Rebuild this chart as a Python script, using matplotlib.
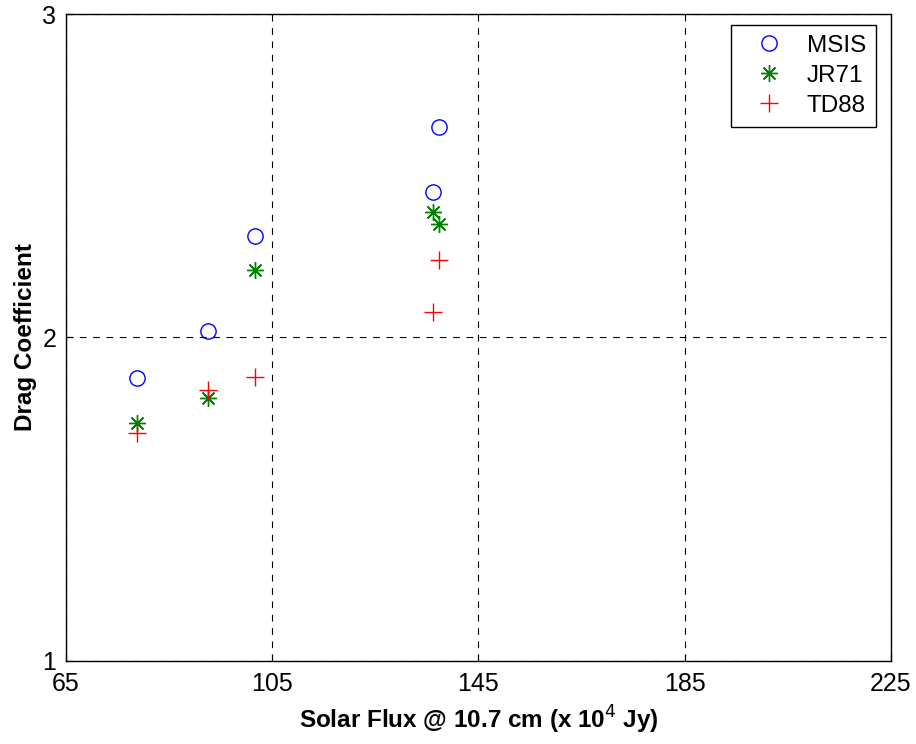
import matplotlib
matplotlib.use('Agg')
import matplotlib.pyplot as plt

# solar flux (x 10^4 Jy) and drag coefficient for each model
flux = [78.8, 92.5, 101.6, 136.1, 137.3]
cd_msis = [1.875, 2.021, 2.314, 2.449, 2.650]
cd_jr71 = [1.735, 1.813, 2.208, 2.389, 2.350]
cd_td88 = [1.704, 1.837, 1.878, 2.079, 2.238]

xticks = [65, 105, 145, 185, 225]
yticks = [1, 2, 3]

plt.rcParams['font.family'] = ['Liberation Sans', 'DejaVu Sans']

fig = plt.figure(figsize=(9.16, 7.44), dpi=100)
ax = fig.add_axes([0.072, 0.112, 0.9007, 0.869])

ax.plot(flux, cd_msis, 'o', mfc='none', mec='blue', ms=11, mew=1.0, label='MSIS')
ax.plot(flux, cd_jr71, marker=(8, 2, 0), ls='none', color='green', ms=12, mew=1.0, label='JR71')
ax.plot(flux, cd_td88, '+', color='red', ms=13, mew=1.0, label='TD88')

ax.set_xlim(65, 225)
ax.set_ylim(1, 3)
ax.set_xticks(xticks)
ax.set_yticks(yticks)
ax.tick_params(direction='in', length=5, labelsize=18)
ax.tick_params(axis='x', pad=8)
ax.tick_params(axis='y', pad=7)
ax.grid(True, color='black', ls=(0, (6, 6)), lw=0.8)
for s in ax.spines.values():
    s.set_linewidth(1.0)

ax.set_xlabel('Solar Flux @ 10.7 cm (x 10$^4$ Jy)', fontsize=17.5, fontweight='bold', labelpad=6)
ax.set_ylabel('Drag Coefficient', fontsize=17.5, fontweight='bold', labelpad=4)

leg = ax.legend(loc='upper right', bbox_to_anchor=(876 / 916, 1 - 24.7 / 744),
                bbox_transform=fig.transFigure, borderaxespad=0,
                fontsize=17.5, fancybox=False, edgecolor='black', framealpha=1,
                handlelength=2.3, handletextpad=0.4, labelspacing=0.33, borderpad=0.42)
leg.get_frame().set_linewidth(1.0)

fig.savefig('out.png', dpi=100)
